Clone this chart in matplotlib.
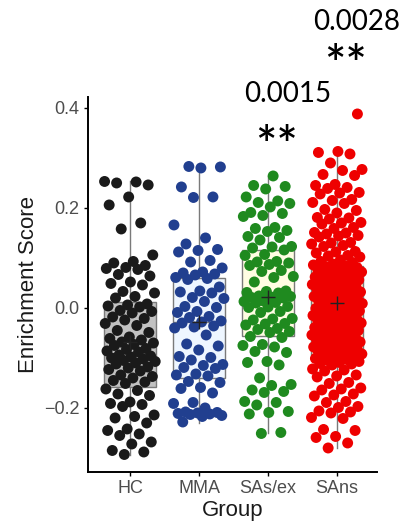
import matplotlib
matplotlib.use("Agg")
import matplotlib.pyplot as plt
import numpy as np

# group names and colours
groups = ["HC", "MMA", "SAs/ex", "SAns"]
point_colors = ["#1a1a1a", "#213f8f", "#1f8a1f", "#ee0000"]
box_fills = ["#c2c2c2", "#eef6ff", "#fffde2", "#ffdcbc"]

# box statistics
q1 = [-0.158, -0.140, -0.056, -0.095]
med = [-0.078, -0.028, 0.020, 0.005]
q3 = [0.012, 0.060, 0.116, 0.084]
whis_lo = [-0.294, -0.230, -0.250, -0.280]
whis_hi = [0.254, 0.282, 0.264, 0.310]
means = [-0.068, -0.028, 0.022, 0.010]

# individual scores
hc = [0.253, 0.252, 0.250, 0.246, 0.222, 0.206, 0.170, 0.158, 0.106, 0.093,
      0.090, 0.085, 0.081, 0.079, 0.077, 0.067, 0.064, 0.052, 0.049, 0.046,
      0.033, 0.030, 0.023, 0.020, 0.008, 0.006, 0.004, 0.002, -0.005, -0.007,
      -0.010, -0.018, -0.021, -0.024, -0.031, -0.035, -0.045, -0.049, -0.058,
      -0.061, -0.064, -0.068, -0.070, -0.073, -0.075, -0.081, -0.083, -0.086,
      -0.088, -0.094, -0.096, -0.098, -0.100, -0.102, -0.105, -0.107, -0.110,
      -0.112, -0.118, -0.120, -0.123, -0.126, -0.134, -0.137, -0.140, -0.145,
      -0.148, -0.151, -0.162, -0.165, -0.172, -0.175, -0.188, -0.191, -0.193,
      -0.197, -0.214, -0.217, -0.220, -0.230, -0.242, -0.245, -0.252, -0.255,
      -0.268, -0.272, -0.285, -0.288, -0.293]
mma = [0.283, 0.282, 0.280, 0.242, 0.222, 0.221, 0.166, 0.140, 0.128, 0.117,
       0.115, 0.112, 0.095, 0.092, 0.080, 0.072, 0.070, 0.068, 0.066, 0.061,
       0.059, 0.057, 0.042, 0.034, 0.032, 0.030, 0.021, 0.019, 0.013, 0.003,
       0.001, -0.007, -0.009, -0.017, -0.019, -0.026, -0.028, -0.030, -0.036,
       -0.038, -0.040, -0.054, -0.072, -0.076, -0.084, -0.097, -0.099, -0.104,
       -0.113, -0.115, -0.119, -0.121, -0.132, -0.134, -0.136, -0.147, -0.149,
       -0.159, -0.161, -0.170, -0.189, -0.191, -0.200, -0.208, -0.209, -0.210,
       -0.211, -0.212, -0.213, -0.215, -0.217, -0.228]
sas_ex = [0.264, 0.245, 0.243, 0.238, 0.222, 0.214, 0.211, 0.209, 0.202, 0.191,
          0.189, 0.185, 0.183, 0.161, 0.159, 0.155, 0.153, 0.143, 0.141, 0.136,
          0.123, 0.122, 0.120, 0.116, 0.107, 0.105, 0.093, 0.092, 0.090, 0.087,
          0.085, 0.075, 0.073, 0.063, 0.061, 0.052, 0.034, 0.033, 0.031, 0.030,
          0.024, 0.023, 0.022, 0.021, 0.020, 0.014, 0.013, 0.011, 0.010, 0.003,
          0.002, 0.001, -0.007, -0.009, -0.021, -0.022, -0.024, -0.031, -0.032,
          -0.034, -0.041, -0.043, -0.047, -0.049, -0.057, -0.059, -0.073, -0.075,
          -0.078, -0.087, -0.089, -0.107, -0.109, -0.114, -0.140, -0.153, -0.155,
          -0.164, -0.167, -0.169, -0.187, -0.189, -0.194, -0.207, -0.209, -0.212,
          -0.249, -0.251]
sans = [0.388, 0.313, 0.311, 0.308, 0.290, 0.277, 0.275, 0.267, 0.265, 0.247,
        0.245, 0.241, 0.239, 0.231, 0.230, 0.228, 0.217, 0.215, 0.211, 0.209,
        0.197, 0.195, 0.190, 0.181, 0.180, 0.178, 0.171, 0.170, 0.168, 0.161,
        0.159, 0.151, 0.150, 0.148, 0.145, 0.144, 0.142, 0.131, 0.130, 0.128,
        0.125, 0.123, 0.113, 0.112, 0.110, 0.105, 0.104, 0.102,
        0.096, 0.093, 0.091, 0.088, 0.086, 0.084,
        0.083, 0.081, 0.078, 0.076, 0.075, 0.073,
        0.072, 0.069, 0.067, 0.065, 0.063, 0.062,
        0.061, 0.059, 0.056, 0.054, 0.052, 0.051,
        0.049, 0.047, 0.045, 0.043, 0.042, 0.040,
        0.038, 0.036, 0.034, 0.032, 0.031, 0.029,
        0.027, 0.025, 0.023, 0.021, 0.020, 0.018,
        0.016, 0.014, 0.012, 0.010, 0.009, 0.007,
        0.005, 0.003, 0.001, -0.001, -0.002, -0.004,
        -0.006, -0.008, -0.010, -0.012, -0.013, -0.015,
        -0.017, -0.019, -0.021, -0.023, -0.024, -0.026,
        -0.028, -0.030, -0.032, -0.034, -0.035, -0.037,
        -0.039, -0.041, -0.043, -0.045, -0.046, -0.048,
        -0.050, -0.052, -0.054, -0.056, -0.057, -0.059,
        -0.061, -0.063, -0.065, -0.067, -0.068, -0.070,
        -0.072, -0.074, -0.076, -0.078, -0.079, -0.081,
        -0.083, -0.085, -0.087, -0.089, -0.090, -0.092,
        -0.094, -0.096, -0.098, -0.100, -0.101, -0.103,
        -0.105, -0.107, -0.109, -0.111, -0.112, -0.114,
        -0.122, -0.124, -0.126, -0.134, -0.136, -0.138, -0.149, -0.151,
        -0.160, -0.162, -0.164, -0.172, -0.174, -0.176, -0.187, -0.189,
        -0.197, -0.199, -0.206, -0.208, -0.210, -0.219, -0.221, -0.243,
        -0.245, -0.257, -0.259, -0.270, -0.280]
scores = [hc, mma, sas_ex, sans]

# p-values shown above the groups
pvals = {2: "0.0015", 3: "0.0028"}

fig = plt.figure(figsize=(4.03, 5.27), dpi=100)
ax = fig.add_axes([0.2184, 0.1044, 0.7171, 0.7116])

stats = []
for i, g in enumerate(groups):
    stats.append(dict(label=g, q1=q1[i], med=med[i], q3=q3[i],
                      whislo=whis_lo[i], whishi=whis_hi[i], mean=means[i]))

bp = ax.bxp(stats, positions=range(len(groups)), widths=0.75,
            patch_artist=True, showfliers=False, showcaps=False,
            showmeans=False,
            boxprops=dict(edgecolor="#7a7a7a", linewidth=1.0),
            whiskerprops=dict(color="#7a7a7a", linewidth=1.0),
            medianprops=dict(color="#7a7a7a", linewidth=1.0))
for patch, fc in zip(bp["boxes"], box_fills):
    patch.set_facecolor(fc)

# jittered points (deterministic low discrepancy offsets)
golden = 0.6180339887
for i, vals in enumerate(scores):
    k = np.arange(len(vals))
    off = ((k * golden + 0.3 * i) % 1.0) * 2 - 1
    ax.scatter(i + 0.37 * off, vals, s=62, color=point_colors[i],
               edgecolors="none", zorder=3)

ax.scatter(range(len(groups)), means, marker="+", s=110, color="#222222",
           linewidths=1.0, zorder=4)

p_y = {2: 0.428, 3: 0.572}
star_y = {2: 0.32, 3: 0.482}
for i, p in pvals.items():
    ax.text(i + 0.29, p_y[i], p, ha="center", va="center",
            fontsize=20, family="Lato", clip_on=False)
    ax.text(i + 0.12, star_y[i], "**", ha="center", va="center",
            fontsize=36, fontweight="semibold", family="Lato", clip_on=False)

ax.set_xlim(-0.61, 3.58)
ax.set_ylim(-0.328, 0.422)
ax.set_yticks([-0.2, 0.0, 0.2, 0.4])
ax.set_yticklabels(["\u22120.2", "0.0", "0.2", "0.4"])
ax.set_xticks(range(len(groups)))
ax.set_xticklabels(groups)

for s in ["top", "right"]:
    ax.spines[s].set_visible(False)
for s in ["left", "bottom"]:
    ax.spines[s].set_linewidth(1.4)
ax.tick_params(length=3, width=1.0, colors="black", labelcolor="#4d4d4d",
               labelsize=13, pad=3)
for lab in ax.get_xticklabels() + ax.get_yticklabels():
    lab.set_family("Liberation Sans")

ax.set_xlabel("Group", fontsize=16, family="Liberation Sans", color="#1a1a1a",
              labelpad=2)
ax.set_ylabel("Enrichment Score", fontsize=16, family="Liberation Sans",
              color="#1a1a1a", labelpad=4)

fig.savefig("out.png", dpi=100)
